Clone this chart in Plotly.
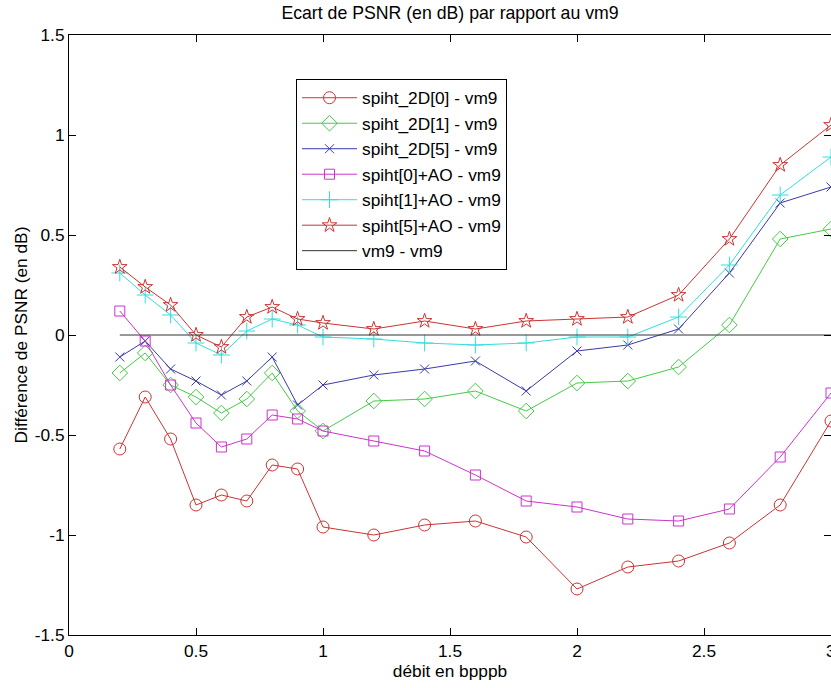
import plotly.graph_objects as go

debit = [0.2, 0.3, 0.4, 0.5, 0.6, 0.7, 0.8, 0.9, 1.0, 1.2, 1.4, 1.6, 1.8, 2.0, 2.2, 2.4, 2.6, 2.8, 3.0]

spiht_2D_0 = [-0.57, -0.31, -0.52, -0.85, -0.80, -0.83, -0.65, -0.67, -0.96, -1.00, -0.95, -0.93, -1.01, -1.27, -1.16, -1.13, -1.04, -0.85, -0.43]
spiht_2D_1 = [-0.19, -0.09, -0.25, -0.31, -0.39, -0.32, -0.19, -0.38, -0.48, -0.33, -0.32, -0.28, -0.38, -0.24, -0.23, -0.16, 0.05, 0.48, 0.53]
spiht_2D_5 = [-0.11, -0.03, -0.17, -0.23, -0.30, -0.23, -0.11, -0.35, -0.25, -0.20, -0.17, -0.13, -0.28, -0.08, -0.05, 0.03, 0.31, 0.66, 0.74]
spiht_0_AO = [0.12, -0.03, -0.25, -0.44, -0.56, -0.52, -0.40, -0.42, -0.48, -0.53, -0.58, -0.70, -0.83, -0.86, -0.92, -0.93, -0.87, -0.61, -0.29]
spiht_1_AO = [0.31, 0.20, 0.10, -0.04, -0.10, 0.02, 0.08, 0.05, -0.01, -0.02, -0.04, -0.05, -0.04, -0.01, -0.01, 0.09, 0.35, 0.70, 0.89]
spiht_5_AO = [0.34, 0.24, 0.15, 0.00, -0.06, 0.09, 0.14, 0.08, 0.06, 0.03, 0.07, 0.03, 0.07, 0.08, 0.09, 0.20, 0.48, 0.85, 1.05]
vm9_vm9 = [0.0] * len(debit)

x_ticks = [0, 0.5, 1, 1.5, 2, 2.5, 3]
x_tick_labels = ["0", "0.5", "1", "1.5", "2", "2.5", "3"]
y_ticks = [-1.5, -1, -0.5, 0, 0.5, 1, 1.5]
y_tick_labels = ["-1.5", "-1", "-0.5", "0", "0.5", "1", "1.5"]

series = [
    ("spiht_2D[0] - vm9", spiht_2D_0, "#cc3333", "circle-open", 12),
    ("spiht_2D[1] - vm9", spiht_2D_1, "#44cc44", "diamond-open", 12),
    ("spiht_2D[5] - vm9", spiht_2D_5, "#3a3aaa", "x-thin-open", 9),
    ("spiht[0]+AO - vm9", spiht_0_AO, "#cc33cc", "square-open", 10),
    ("spiht[1]+AO - vm9", spiht_1_AO, "#33dddd", "cross-thin-open", 12),
    ("spiht[5]+AO - vm9", spiht_5_AO, "#cc3333", "star-open", 11),
]

fig = go.Figure()
for name, ys, col, sym, sz in series:
    fig.add_trace(go.Scatter(
        x=debit, y=ys, name=name, mode="lines+markers",
        line=dict(color=col, width=1),
        marker=dict(symbol=sym, size=sz, color=col, line=dict(width=1, color=col)),
    ))
fig.add_trace(go.Scatter(
    x=debit, y=vm9_vm9, name="vm9 - vm9", mode="lines",
    line=dict(color="#333333", width=1),
))

font = "Liberation Sans, Arial, sans-serif"
fs = 17.3
fig.update_layout(
    width=831, height=688,
    margin=dict(l=69, r=0, t=35, b=53),
    paper_bgcolor="white", plot_bgcolor="white",
    font=dict(family=font, size=fs, color="black"),
    title=dict(text="Ecart de PSNR (en dB) par rapport au vm9", x=450/831, xanchor="center",
               y=1 - 13/688, yanchor="middle", font=dict(size=17.7)),
    showlegend=True,
    legend=dict(x=(296-69)/762, y=(635-79)/600, xanchor="left", yanchor="top",
                bgcolor="white", bordercolor="black", borderwidth=1,
                font=dict(size=fs), itemwidth=55),
    xaxis=dict(range=[0, 3], tickvals=x_ticks, ticktext=x_tick_labels,
               ticks="inside", ticklen=7, tickcolor="black",
               showline=True, linecolor="black", linewidth=1, mirror="ticks",
               showgrid=False, zeroline=False, automargin=False,
               tickfont=dict(size=fs),
               title=dict(text="débit en bpppb", standoff=4, font=dict(size=fs))),
    yaxis=dict(range=[-1.5, 1.5], tickvals=y_ticks, ticktext=y_tick_labels,
               ticks="inside", ticklen=7, tickcolor="black",
               showline=True, linecolor="black", linewidth=1, mirror="ticks",
               showgrid=False, zeroline=False, automargin=False,
               tickfont=dict(size=fs),
               title=dict(text="Différence de PSNR (en dB)", standoff=2, font=dict(size=fs))),
)
# last x tick label sits on the clipped right edge; draw it explicitly
fig.add_annotation(x=x_ticks[-1], y=-16/600, xref="x", yref="paper",
                   text=x_tick_labels[-1], showarrow=False, xanchor="center", yanchor="middle",
                   font=dict(size=fs, family=font, color="black"))

fig.write_html("out.html", config={"displayModeBar": False},
               post_script="document.body.style.margin='0';document.body.style.overflow='hidden';")
